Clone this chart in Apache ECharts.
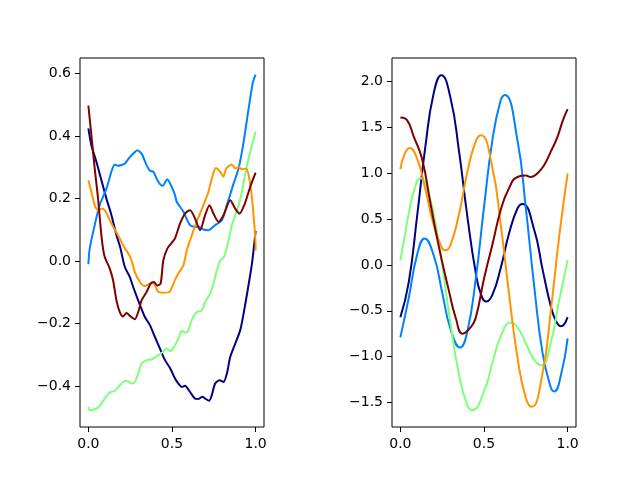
<!DOCTYPE html>
<html>
<head>
<meta charset="utf-8">
<script src="https://cdn.jsdelivr.net/npm/echarts@6/dist/echarts.min.js"></script>
<style>
  html, body { margin: 0; background: #fff; }
  #chart { width: 640px; height: 480px; }
</style>
</head>
<body>
<div id="chart"></div>
<script>
// ---- left panel (wiggly lines) ----
const lNavyX = [0, 0.018, 0.048, 0.078, 0.108, 0.138, 0.168, 0.19, 0.218, 0.248, 0.268, 0.298, 0.338, 0.368, 0.398, 0.428, 0.458, 0.488, 0.518, 0.538, 0.558, 0.578, 0.608, 0.638, 0.658, 0.682, 0.698, 0.722, 0.738, 0.758, 0.784, 0.808, 0.828, 0.848, 0.878, 0.908, 0.928, 0.952, 0.978, 1.0]
const lNavyY = [0.425, 0.371, 0.318, 0.259, 0.2, 0.147, 0.083, 0.045, -0.019, -0.051, -0.083, -0.126, -0.179, -0.205, -0.243, -0.28, -0.317, -0.342, -0.376, -0.392, -0.403, -0.399, -0.419, -0.44, -0.441, -0.434, -0.44, -0.447, -0.429, -0.392, -0.381, -0.387, -0.36, -0.307, -0.264, -0.221, -0.168, -0.094, -0.008, 0.097]

const lBlueX = [0, 0.008, 0.04, 0.068, 0.108, 0.14, 0.158, 0.178, 0.2, 0.218, 0.248, 0.27, 0.292, 0.318, 0.348, 0.368, 0.388, 0.418, 0.444, 0.472, 0.498, 0.518, 0.528, 0.568, 0.608, 0.638, 0.66, 0.688, 0.718, 0.758, 0.798, 0.828, 0.868, 0.898, 0.928, 0.958, 0.984, 1.0]
const lBlueY = [-0.01, 0.04, 0.12, 0.18, 0.232, 0.29, 0.309, 0.305, 0.308, 0.312, 0.333, 0.345, 0.355, 0.344, 0.307, 0.289, 0.286, 0.254, 0.241, 0.262, 0.238, 0.211, 0.19, 0.158, 0.115, 0.11, 0.11, 0.101, 0.099, 0.115, 0.131, 0.179, 0.248, 0.296, 0.381, 0.488, 0.573, 0.597]

const lGreenX = [0, 0.008, 0.048, 0.072, 0.098, 0.124, 0.158, 0.184, 0.208, 0.228, 0.258, 0.278, 0.298, 0.318, 0.348, 0.378, 0.418, 0.444, 0.468, 0.492, 0.512, 0.538, 0.558, 0.584, 0.598, 0.618, 0.648, 0.678, 0.698, 0.728, 0.748, 0.768, 0.788, 0.808, 0.828, 0.858, 0.878, 0.898, 0.918, 0.944, 0.968, 1.0]
const lGreenY = [-0.466, -0.477, -0.472, -0.461, -0.44, -0.422, -0.415, -0.4, -0.387, -0.383, -0.392, -0.387, -0.36, -0.328, -0.317, -0.315, -0.301, -0.291, -0.28, -0.288, -0.275, -0.248, -0.224, -0.229, -0.221, -0.189, -0.163, -0.158, -0.131, -0.104, -0.072, -0.03, 0.002, 0.011, 0.043, 0.115, 0.147, 0.179, 0.222, 0.296, 0.35, 0.415]

const lOrangeX = [0, 0.018, 0.038, 0.058, 0.084, 0.104, 0.128, 0.148, 0.172, 0.192, 0.218, 0.238, 0.258, 0.278, 0.308, 0.338, 0.368, 0.388, 0.418, 0.448, 0.484, 0.518, 0.538, 0.568, 0.588, 0.608, 0.648, 0.688, 0.718, 0.738, 0.762, 0.788, 0.808, 0.824, 0.858, 0.878, 0.898, 0.918, 0.944, 0.96, 0.972, 0.984, 0.998, 1.0]
const lOrangeY = [0.259, 0.222, 0.179, 0.163, 0.168, 0.158, 0.131, 0.11, 0.088, 0.067, 0.041, 0.025, 0.002, -0.035, -0.067, -0.08, -0.072, -0.07, -0.099, -0.101, -0.099, -0.06, -0.04, -0.014, 0.034, 0.066, 0.126, 0.179, 0.222, 0.264, 0.298, 0.286, 0.27, 0.296, 0.309, 0.296, 0.302, 0.294, 0.296, 0.27, 0.23, 0.168, 0.073, 0.034]

const lRedX = [0, 0.018, 0.038, 0.058, 0.072, 0.085, 0.098, 0.128, 0.148, 0.168, 0.188, 0.208, 0.228, 0.252, 0.278, 0.298, 0.318, 0.348, 0.372, 0.392, 0.412, 0.432, 0.448, 0.472, 0.498, 0.518, 0.548, 0.578, 0.608, 0.638, 0.668, 0.698, 0.724, 0.748, 0.778, 0.808, 0.848, 0.878, 0.904, 0.932, 0.968, 1.0]
const lRedY = [0.498, 0.403, 0.296, 0.2, 0.115, 0.05, 0.013, -0.024, -0.062, -0.126, -0.163, -0.177, -0.166, -0.177, -0.186, -0.163, -0.126, -0.099, -0.072, -0.067, -0.078, -0.072, 0.002, 0.04, 0.058, 0.073, 0.12, 0.152, 0.163, 0.136, 0.099, 0.147, 0.179, 0.152, 0.126, 0.147, 0.195, 0.168, 0.152, 0.179, 0.238, 0.283]

// ---- right panel (smooth waves) ----
const rNavyX = [0, 0.05, 0.1, 0.15, 0.2, 0.245, 0.3, 0.35, 0.4, 0.45, 0.48, 0.513, 0.55, 0.6, 0.65, 0.7, 0.73, 0.8, 0.85, 0.9, 0.93, 0.96, 1.0]
const rNavyY = [-0.57, -0.19, 0.53, 1.30, 1.88, 2.07, 1.82, 1.25, 0.535, -0.08, -0.31, -0.40, -0.326, -0.032, 0.346, 0.616, 0.666, 0.385, -0.048, -0.455, -0.61, -0.67, -0.57]

const rBlueX = [0, 0.05, 0.1, 0.145, 0.2, 0.25, 0.3, 0.357, 0.4, 0.45, 0.5, 0.55, 0.6, 0.625, 0.7, 0.75, 0.8, 0.85, 0.9, 0.92, 0.96, 1.0]
const rBlueY = [-0.79, -0.36, 0.11, 0.29, 0.10, -0.30, -0.70, -0.90, -0.73, -0.16, 0.63, 1.36, 1.80, 1.855, 1.36, 0.62, -0.23, -0.96, -1.34, -1.38, -1.2, -0.80]

const rGreenX = [0, 0.02, 0.05, 0.08, 0.12, 0.15, 0.2, 0.25, 0.3, 0.35, 0.4, 0.43, 0.5, 0.55, 0.6, 0.66, 0.7, 0.75, 0.8, 0.843, 0.9, 0.95, 1.0]
const rGreenY = [0.05, 0.25, 0.56, 0.80, 0.945, 0.89, 0.55, 0.0, -0.64, -1.19, -1.53, -1.585, -1.38, -1.07, -0.78, -0.627, -0.68, -0.855, -1.035, -1.095, -0.84, -0.38, 0.055]

const rOrangeX = [0, 0.025, 0.055, 0.1, 0.15, 0.2, 0.25, 0.27, 0.3, 0.35, 0.4, 0.45, 0.482, 0.55, 0.6, 0.65, 0.7, 0.75, 0.785, 0.85, 0.9, 0.95, 1.0]
const rOrangeY = [1.045, 1.21, 1.275, 1.16, 0.82, 0.43, 0.18, 0.16, 0.22, 0.55, 1.01, 1.345, 1.415, 1.06, 0.44, -0.32, -1.01, -1.45, -1.548, -1.18, -0.49, 0.32, 1.0]

const rRedX = [0, 0.04, 0.08, 0.13, 0.18, 0.23, 0.29, 0.33, 0.373, 0.42, 0.45, 0.5, 0.55, 0.6, 0.65, 0.7, 0.75, 0.78, 0.82, 0.86, 0.9, 0.94, 0.97, 1.0]
const rRedY = [1.61, 1.58, 1.40, 1.155, 0.67, 0.2, -0.28, -0.57, -0.75, -0.68, -0.58, -0.15, 0.22, 0.6, 0.84, 0.96, 0.975, 0.96, 1.0, 1.09, 1.24, 1.40, 1.57, 1.70]

const xTicks = [0, 0.5, 1]
const lTicks = [-0.4, -0.2, 0, 0.2, 0.4, 0.6]
const rTicks = [-1.5, -1, -0.5, 0, 0.5, 1, 1.5, 2]
const colors = ['#000080', '#0080ff', '#7dff7a', '#ff9400', '#800000']

const leftLines = [[lNavyX, lNavyY], [lBlueX, lBlueY], [lGreenX, lGreenY], [lOrangeX, lOrangeY], [lRedX, lRedY]]
const rightLines = [[rNavyX, rNavyY], [rBlueX, rBlueY], [rGreenX, rGreenY], [rOrangeX, rOrangeY], [rRedX, rRedY]]

function pairs(xs, ys) {
  return xs.map((x, i) => [x, ys[i]])
}
function fmt(v) {
  return (v < 0 ? '\u2212' : '') + Math.abs(v).toFixed(1)
}
const font = { color: '#000', fontSize: 14, fontFamily: 'DejaVu Sans' }

function xAxis(idx) {
  return {
    type: 'value', gridIndex: idx, min: -0.05, max: 1.05,
    axisLine: { show: false, onZero: false },
    splitLine: { show: false },
    axisTick: { show: true, customValues: xTicks, length: 5, lineStyle: { color: '#000', width: 1 } },
    axisLabel: Object.assign({ customValues: xTicks, margin: 10, formatter: fmt }, font)
  }
}
function yAxis(idx, min, max, ticks) {
  return {
    type: 'value', gridIndex: idx, min: min, max: max,
    axisLine: { show: false, onZero: false },
    splitLine: { show: false },
    axisTick: { show: true, customValues: ticks, length: 5, lineStyle: { color: '#000', width: 1 } },
    axisLabel: Object.assign({ customValues: ticks, margin: 9, formatter: fmt }, font)
  }
}

let series = []
leftLines.forEach((l, i) => {
  series.push({
    type: 'line', xAxisIndex: 0, yAxisIndex: 0, data: pairs(l[0], l[1]),
    showSymbol: false, symbol: 'none', smooth: 0.25,
    lineStyle: { color: colors[i], width: 2 }, itemStyle: { color: colors[i] }
  })
})
rightLines.forEach((l, i) => {
  series.push({
    type: 'line', xAxisIndex: 1, yAxisIndex: 1, data: pairs(l[0], l[1]),
    showSymbol: false, symbol: 'none', smooth: 0.5,
    lineStyle: { color: colors[i], width: 2 }, itemStyle: { color: colors[i] }
  })
})

let chart = echarts.init(document.getElementById('chart'))
chart.setOption({
  animation: false,
  backgroundColor: '#fff',
  grid: [
    { left: 80, top: 58, width: 184, height: 369, show: true, borderColor: '#000', borderWidth: 1 },
    { left: 392, top: 58, width: 184, height: 369, show: true, borderColor: '#000', borderWidth: 1 }
  ],
  xAxis: [xAxis(0), xAxis(1)],
  yAxis: [yAxis(0, -0.531, 0.650, lTicks), yAxis(1, -1.768, 2.258, rTicks)],
  series: series
})
</script>
</body>
</html>
